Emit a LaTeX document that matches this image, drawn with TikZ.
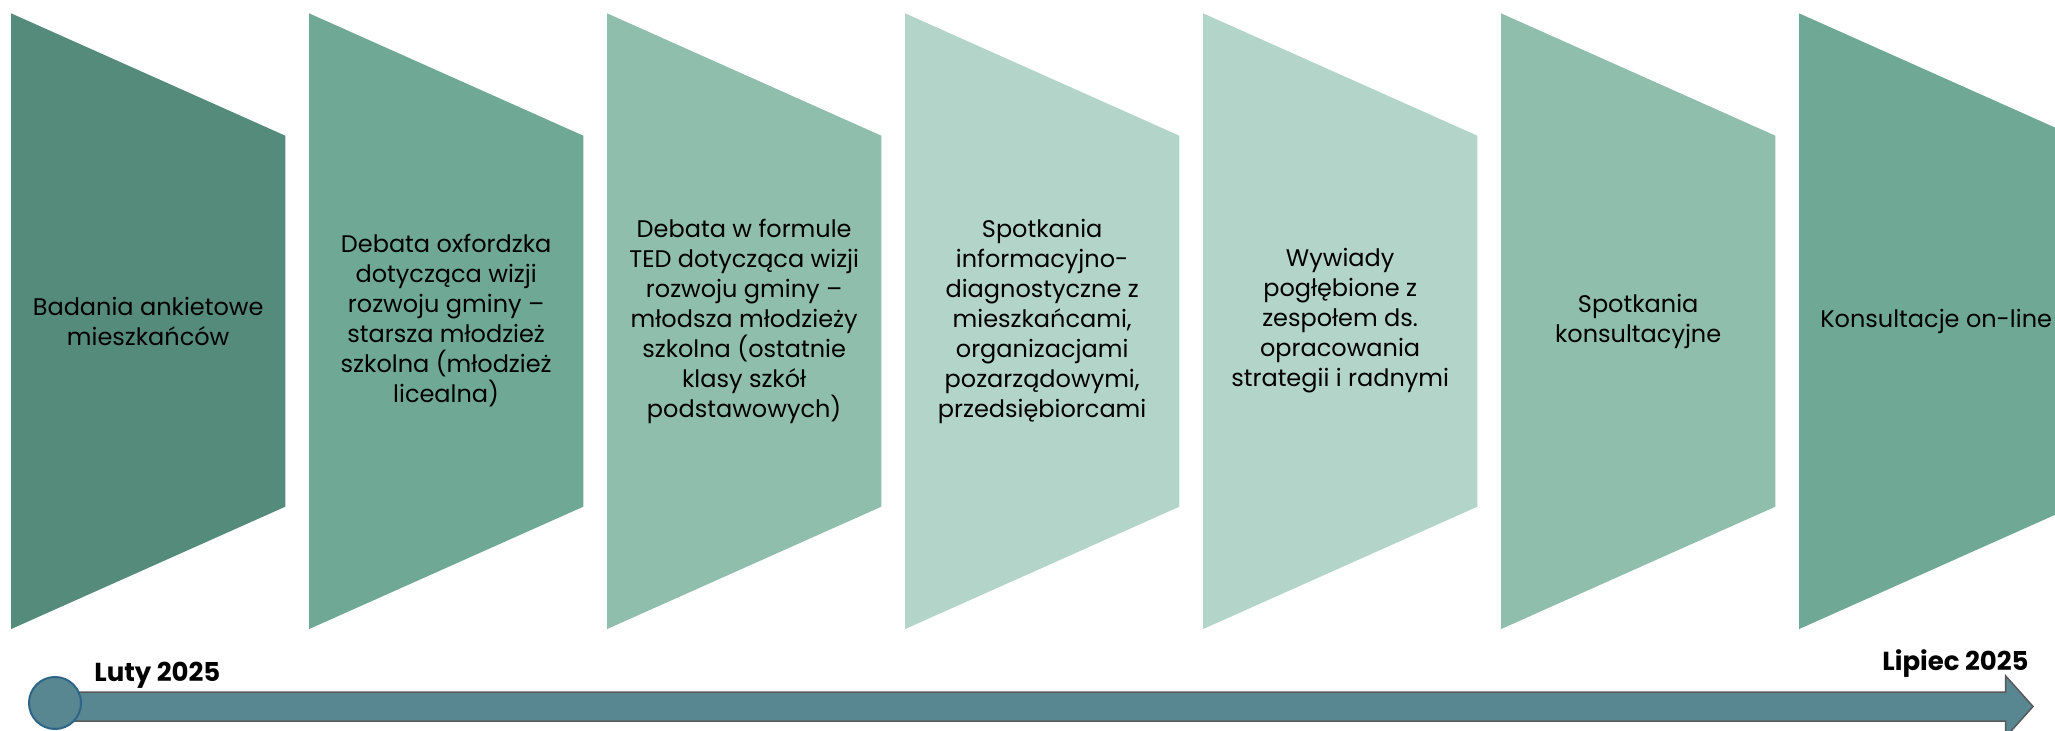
\documentclass[tikz,border=0pt]{standalone}
\usepackage{fontspec}
\setmainfont{Poppins}
\usepackage{xcolor}
\usetikzlibrary{positioning}
\definecolor{phaseA}{HTML}{558B7A}
\definecolor{phaseB}{HTML}{6FA996}
\definecolor{phaseC}{HTML}{8FBEAD}
\definecolor{phaseD}{HTML}{B2D4C9}
\definecolor{barfill}{HTML}{588791}
\definecolor{baredge}{HTML}{595959}
\definecolor{dotedge}{HTML}{2C6587}
\tikzset{
  phase/.style={align=center, inner sep=0pt, text=black, font=\fontsize{12}{15}\selectfont},
  datelabel/.style={inner sep=0pt, text=black, font=\fontsize{13}{15}\selectfont\bfseries},
}

\begin{document}
\begin{tikzpicture}[x=0.5pt,y=-0.5pt]
    \useasboundingbox (0,0) rectangle (2055,731);

    % Phases
    \foreach \i/\col/\txt in {
        0/phaseA/{Badania ankietowe\\mieszkańców},
        1/phaseB/{Debata oxfordzka\\dotycząca wizji\\rozwoju gminy –\\starsza młodzież\\szkolna (młodzież\\licealna)},
        2/phaseC/{Debata w formule\\TED dotycząca wizji\\rozwoju gminy –\\młodsza młodzieży\\szkolna (ostatnie\\klasy szkół\\podstawowych)},
        3/phaseD/{Spotkania\\informacyjno-\\diagnostyczne z\\mieszkańcami,\\organizacjami\\pozarządowymi,\\przedsiębiorcami},
        4/phaseD/{Wywiady\\pogłębione z\\zespołem ds.\\opracowania\\strategii i radnymi},
        5/phaseC/{Spotkania\\konsultacyjne},
        6/phaseB/{Konsultacje on-line}} {
        \pgfmathsetmacro\xl{11+298*\i}
        \fill[\col] (\xl,13.3) -- ++(274.3,122.4) -- ++(0,371) -- ++(-274.3,122.4) -- cycle;
        \node[phase] (phase\i) at (\xl+137.15,321) {\txt};
    }

    % Timeline
    \filldraw[fill=barfill, draw=baredge, line width=0.75pt]
        (55,692) -- (2005.7,692) -- (2005.7,676) -- (2033,706.5)
        -- (2005.7,737) -- (2005.7,721) -- (55,721) -- cycle;
    \node[circle, fill=barfill, draw=dotedge, line width=1pt, minimum size=26pt, inner sep=0pt] (start) at (55,703) {};
    \node[datelabel, anchor=base west] (luty) at (94,681.7) {Luty 2025};
    \node[datelabel, anchor=base east] (lipiec) at (2029,670.7) {Lipiec 2025};
\end{tikzpicture}
\end{document}
